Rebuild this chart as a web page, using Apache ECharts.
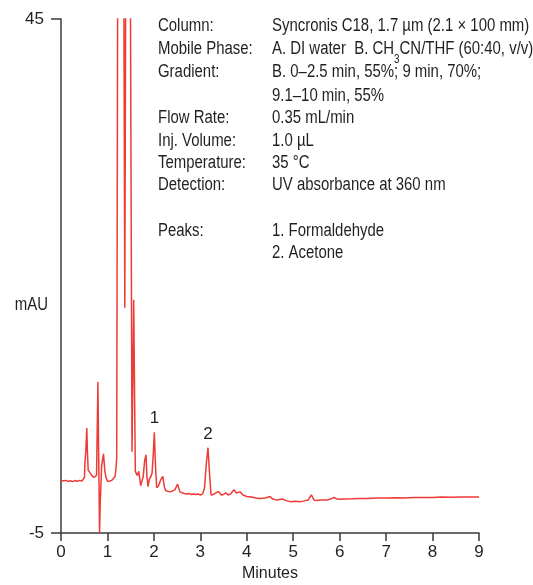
<!DOCTYPE html>
<html>
<head>
<meta charset="utf-8">
<script src="https://cdn.jsdelivr.net/npm/echarts@6/dist/echarts.min.js"></script>
<style>
html,body{margin:0;padding:0;background:#fff;}
#chart{width:533px;height:585px;}
</style>
</head>
<body>
<div id="chart"></div>
<script>
// Retention time (min)
var times = [
0.00,0.05,0.10,0.15,0.20,0.25,0.30,0.35,0.40,0.45,0.49,0.505,0.515,0.535,0.555,0.57,0.585,0.62,0.66,0.71,0.75,0.765,0.78,0.795,0.81,0.83,0.845,0.875,0.915,0.945,0.975,1.01,1.05,1.09,1.13,1.165,1.19,1.20,1.225,1.28,1.345,1.374,1.40,1.44,1.485,1.529,1.565,1.60,1.64,1.675,1.715,1.74,1.77,1.80,1.83,1.85,1.875,1.90,1.935,1.96,1.985,2.01,2.035,2.06,2.10,2.15,2.19,2.23,2.26,2.30,2.35,2.40,2.45,2.51,2.56,2.60,2.65,2.70,2.75,2.80,2.85,2.90,2.95,3.00,3.05,3.09,3.13,3.165,3.195,3.23,3.28,3.32,3.39,3.45,3.50,3.55,3.60,3.65,3.725,3.78,3.855,3.92,4.00,4.10,4.20,4.285,4.40,4.50,4.56,4.645,4.77,4.85,4.93,5.05,5.15,5.22,5.32,5.39,5.45,5.50,5.60,5.72,5.80,5.88,5.95,6.01,6.10,6.25,6.44,6.60,6.80,7.00,7.20,7.40,7.60,7.80,8.00,8.20,8.40,8.60,8.80,9.00
];
// Absorbance (mAU)
var absorbance = [
0.10,0.05,0.12,0.02,0.08,0.00,0.10,0.04,0.12,0.06,0.15,0.40,1.80,3.0,5.2,2.8,1.1,0.9,0.6,0.4,0.35,0.6,5.0,9.7,3.0,-5.0,-2.0,1.5,2.7,1.0,0.3,0.0,0.05,0.1,0.15,0.5,1.6,2.4,60,110,60,16.9,60,95,60,2.9,17.7,1.0,0.6,1.0,-0.4,-0.5,0.5,2.0,2.6,0.5,-0.5,0.2,0.5,0.8,2.5,4.8,1.5,-0.6,-0.4,0.2,0.5,-0.6,-0.9,-0.95,-1.0,-0.9,-0.8,-0.25,-1.0,-1.1,-1.15,-1.2,-1.15,-1.25,-1.2,-1.25,-1.2,-1.3,-1.2,-0.6,1.8,3.3,1.0,-1.3,-1.25,-1.2,-0.95,-1.3,-1.25,-1.1,-1.3,-1.2,-0.8,-1.1,-1.0,-1.3,-1.45,-1.5,-1.6,-1.65,-1.6,-1.45,-1.7,-1.8,-1.7,-1.85,-1.95,-1.9,-1.95,-1.9,-1.8,-1.3,-1.8,-1.85,-1.8,-1.8,-1.7,-1.55,-1.7,-1.72,-1.7,-1.68,-1.65,-1.65,-1.6,-1.6,-1.58,-1.6,-1.55,-1.55,-1.55,-1.5,-1.52,-1.5,-1.5,-1.5
];
// Peak labels
var peakNames = ['1', '2'];
var peakTimes = [2.01, 3.165];
var peakValues = [4.8, 3.3];
// Axis tick labels
var xTicks = [0,1,2,3,4,5,6,7,8,9];
var yTicks = [-5, 45];
// Conditions text
var condLabels = ['Column:', 'Mobile Phase:', 'Gradient:', '', 'Flow Rate:', 'Inj. Volume:', 'Temperature:', 'Detection:', 'Peaks:', ''];
var condValues = ['Syncronis C18, 1.7 µm (2.1 × 100 mm)', 'A. DI water  B. CH{sub|3}CN/THF (60:40, v/v)', 'B. 0–2.5 min, 55%; 9 min, 70%;', '9.1–10 min, 55%', '0.35 mL/min', '1.0 µL', '35 °C', 'UV absorbance at 360 nm', '1. Formaldehyde', '2. Acetone'];

var FONT = "'Liberation Sans', Arial, sans-serif";
var TXT = '#231f20';
var AX = '#3a3a3a';
var lineYs = [26, 49, 72, 96, 118, 141, 163, 185, 231, 253];
var SX = 0.83;

var seriesData = times.map(function (t, i) { return [t, absorbance[i]]; });
var graphics = [];
condLabels.forEach(function (s, i) {
  if (s) graphics.push({type: 'text', x: 158, y: lineYs[i], scaleX: SX, style: {text: s, fill: TXT, fontSize: 18, fontFamily: FONT, verticalAlign: 'middle'}});
});
condValues.forEach(function (s, i) {
  graphics.push({type: 'text', x: 272, y: lineYs[i], scaleX: SX, style: {
    text: s, fill: TXT, fontSize: 18, fontFamily: FONT, verticalAlign: 'middle',
    rich: {sub: {fontSize: 12, fontFamily: FONT, fill: TXT, lineHeight: 12, padding: [22, 0, 0, 0]}}
  }});
});
// y-axis title
graphics.push({type: 'text', x: 48, y: 305, scaleX: SX, style: {text: 'mAU', fill: TXT, fontSize: 18, fontFamily: FONT, align: 'right', verticalAlign: 'middle'}});

var chart = echarts.init(document.getElementById('chart'), null, {renderer: 'canvas'});
chart.setOption({
  animation: false,
  backgroundColor: '#fff',
  grid: {left: 61, right: 54, top: 19, bottom: 52, containLabel: false, outerBoundsMode: 'none'},
  xAxis: {
    type: 'value', min: 0, max: 9, interval: 1,
    name: 'Minutes', nameLocation: 'middle', nameGap: 33, nameMoveOverlap: false,
    nameTextStyle: {fontSize: 16, fontFamily: FONT, color: TXT},
    axisLine: {onZero: false, lineStyle: {color: AX, width: 1.5}},
    axisTick: {show: true, length: 8, lineStyle: {color: AX, width: 1.5}},
    axisLabel: {fontSize: 17, fontFamily: FONT, color: TXT, margin: 11,
      formatter: function (v) { return xTicks.indexOf(v) >= 0 ? String(v) : ''; }},
    splitLine: {show: false}
  },
  yAxis: {
    type: 'value', min: -5, max: 45,
    axisLine: {show: true, onZero: false, lineStyle: {color: AX, width: 1.5}},
    axisTick: {show: true, length: 10, customValues: yTicks, lineStyle: {color: AX, width: 1.5}},
    axisLabel: {fontSize: 17, fontFamily: FONT, color: TXT, margin: 17, customValues: yTicks},
    splitLine: {show: false}
  },
  series: [{
    type: 'line',
    data: seriesData,
    showSymbol: false,
    clip: true,
    lineStyle: {color: '#ee3b35', width: 1.5},
    markPoint: {
      symbol: 'circle', symbolSize: 0,
      label: {show: true, position: 'top', distance: 5, fontSize: 17, fontFamily: FONT, color: TXT,
        formatter: function (p) { return p.name; }},
      data: peakNames.map(function (n, i) { return {name: n, coord: [peakTimes[i], peakValues[i]]}; })
    }
  }],
  graphic: graphics
});
</script>
</body>
</html>
